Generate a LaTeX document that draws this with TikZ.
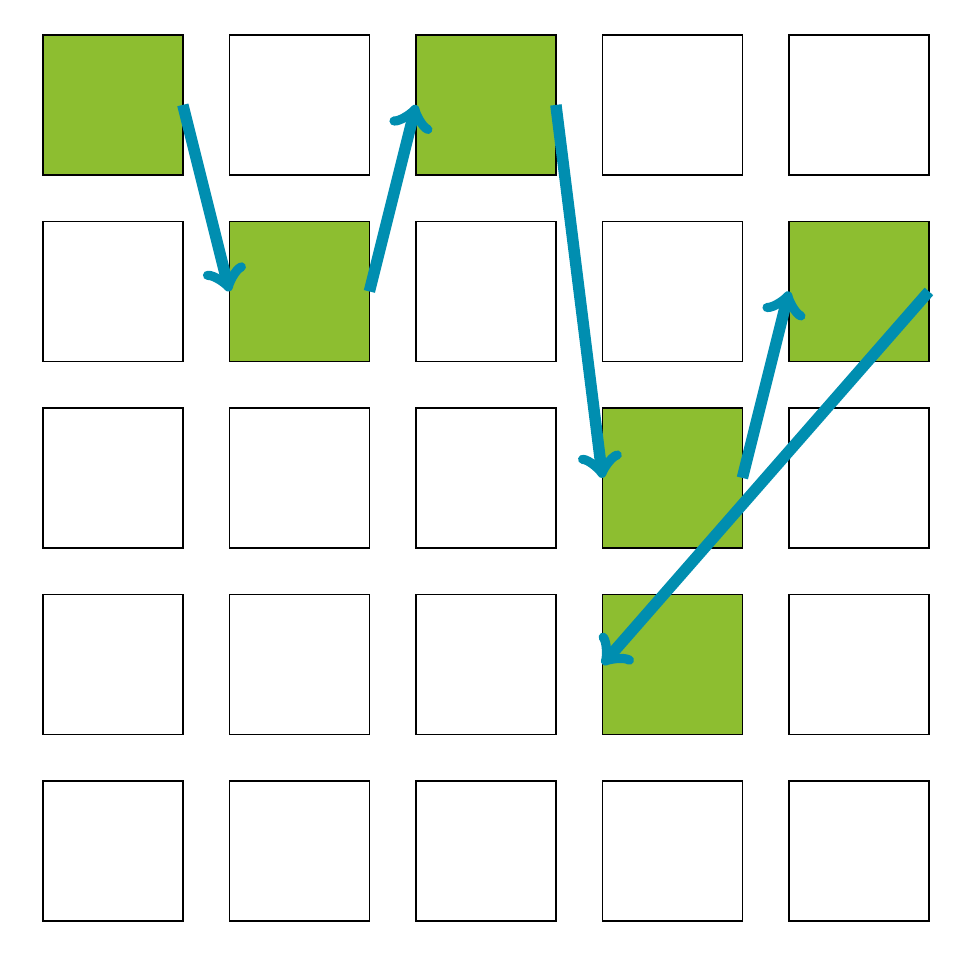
\documentclass[tikz,border=0pt]{standalone}
\usetikzlibrary{positioning}
\definecolor{leafgreen}{RGB}{141,190,48}
\definecolor{pathblue}{RGB}{0,142,176}

\begin{document}
\begin{tikzpicture}[
  cell/.style={draw=black,line width=0.5pt,minimum size=1.5cm,inner sep=0pt,outer sep=0pt,anchor=north west},
  lit/.style={cell,fill=leafgreen},
  hop/.style={->,line width=3.5pt,pathblue}]
\useasboundingbox (-0.461,0.375) rectangle (10.048,-9.941);

% grid of cells
\foreach \r in {0,...,4}
  \foreach \c in {0,...,4}
    \node[cell] (s\r\c) at (2*\c,-2*\r) {};

% visited cells
\foreach \r/\c in {0/0,1/1,0/2,2/3,1/4,3/3}
  \node[lit] (s\r\c) at (2*\c,-2*\r) {};

% path
\draw[hop] (s00.east) -- (s11.west);
\draw[hop] (s11.east) -- (s02.west);
\draw[hop] (s02.east) -- (s23.west);
\draw[hop] (s23.east) -- (s14.west);
\draw[hop] (s14.east) -- (s33.west);
\end{tikzpicture}
\end{document}
